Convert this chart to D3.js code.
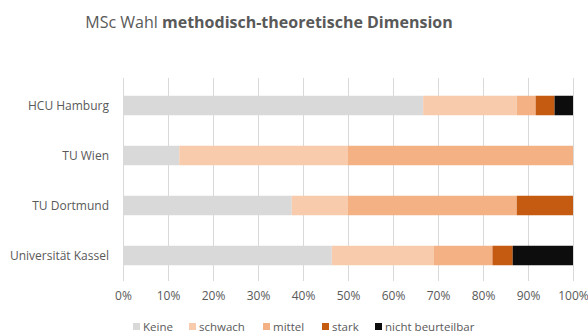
<!DOCTYPE html>
<html><head><meta charset="utf-8">
<script src="https://cdn.jsdelivr.net/npm/d3@7"></script>
<style>body{margin:0;background:#fff}svg{display:block}</style>
</head><body>
<svg id="c" width="588" height="334"></svg>
<script>
const categories = ["HCU Hamburg", "TU Wien", "TU Dortmund", "Universität Kassel"];
const seriesNames = ["Keine", "schwach", "mittel", "stark", "nicht beurteilbar"];
const keine   = [66.7, 12.5, 37.5, 46.4];
const schwach = [20.8, 37.5, 12.5, 22.6];
const mittel  = [4.2, 50.0, 37.5, 13.1];
const stark   = [4.2, 0, 12.5, 4.5];
const nichtB  = [4.1, 0, 0, 13.4];
const tickValues = [0,10,20,30,40,50,60,70,80,90,100];
const colors = ["#d9d9d9", "#f8cbad", "#f4b183", "#c55a11", "#0d0d0d"];

const seriesValues = [keine, schwach, mittel, stark, nichtB];
const table = categories.map((c, i) => {
  const o = {cat: c};
  seriesNames.forEach((s, j) => o[s] = seriesValues[j][i]);
  return o;
});
const stack = d3.stack().keys(seriesNames)(table);

const svg = d3.select("#c");
const font = "'Open Sans', sans-serif";
const x = d3.scaleLinear().domain([0, 100]).range([123, 573]);
const y = d3.scaleBand().domain(categories).range([80.5, 280.5]).paddingInner(0.61).paddingOuter(0.305);

const title = svg.append("text").attr("x", 269).attr("y", 28).attr("text-anchor", "middle")
  .attr("font-family", font).attr("font-size", 16).attr("fill", "#595959");
title.append("tspan").text("MSc Wahl ");
title.append("tspan").attr("font-weight", "bold").text("methodisch-theoretische Dimension");

// gridlines
svg.append("g").selectAll("line").data(tickValues).join("line")
  .attr("x1", d => Math.round(x(d)) + 0.5).attr("x2", d => Math.round(x(d)) + 0.5)
  .attr("y1", 78).attr("y2", 281).attr("stroke", "#d9d9d9").attr("stroke-width", 1);

svg.append("g").selectAll("g").data(stack).join("g").attr("fill", (d, i) => colors[i])
  .selectAll("rect").data(d => d).join("rect")
  .attr("x", d => x(d[0])).attr("width", d => x(d[1]) - x(d[0]))
  .attr("y", d => y(d.data.cat)).attr("height", y.bandwidth());

// category labels
svg.append("g").selectAll("text").data(categories).join("text")
  .attr("x", 109).attr("y", d => y(d) + y.bandwidth() / 2).attr("dy", "0.35em")
  .attr("text-anchor", "end").attr("font-family", font).attr("font-size", 12).attr("fill", "#595959")
  .text(d => d);

// x axis tick labels
const xAxis = d3.axisBottom(x).tickValues(tickValues).tickFormat(d => d + "%").tickSize(0).tickPadding(0);
const ax = svg.append("g").attr("transform", "translate(0,291)").call(xAxis);
ax.select(".domain").remove();
ax.selectAll("text").attr("font-family", font).attr("font-size", 12).attr("fill", "#595959");

// legend
const legX = [133, 189, 263, 322, 375];
const lg = svg.append("g").selectAll("g").data(seriesNames).join("g")
  .attr("transform", (d, i) => `translate(${legX[i]},326.5)`);
lg.append("rect").attr("x", 0).attr("y", -3.5).attr("width", 7).attr("height", 7).attr("fill", (d, i) => colors[i]);
lg.append("text").attr("x", 10).attr("y", 0).attr("dy", "0.35em").attr("font-family", font)
  .attr("font-size", 11.5).attr("fill", "#595959").text(d => d);
</script>
</body></html>
